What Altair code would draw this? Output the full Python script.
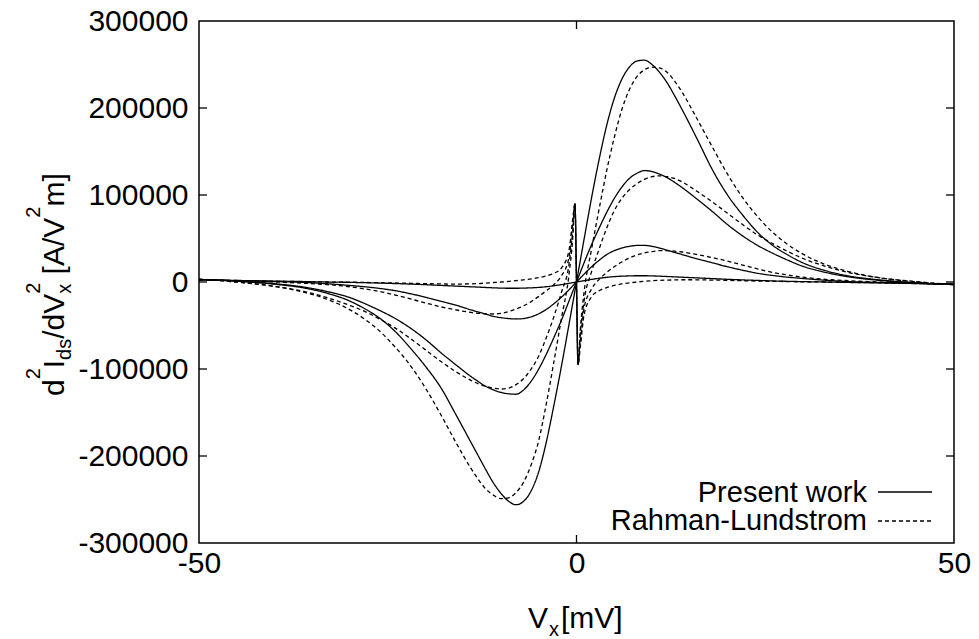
import altair as alt
import pandas as pd

# ---------------- data (in units of 1000 A/V^2m) ----------------
X_MV = [-50, -45, -40, -36, -33, -30, -28, -26, -24, -22,
        -20, -18, -16, -14, -13, -12, -11, -10, -9, -8,
        -7, -6, -5, -4, -3, -2, -1, -0.5, -0.2,
        0,
        0.2, 0.5, 1, 2, 3, 4, 5, 6, 7,
        8, 9, 10, 11, 12, 13, 14, 16, 18, 20,
        22, 24, 26, 28, 30, 33, 36, 40, 45, 50]

PRESENT_1 = [3, 1, -2.5, -7, -13, -22, -31, -42, -57, -76,
             -97, -121, -152, -184, -200, -216, -231, -243, -252, -256,
             -252, -240, -218, -184, -142, -97, -49, -24.5, -10,
             0,
             10, 24.5, 49, 97, 141, 180, 211, 233, 247,
             254, 255, 250, 241, 229, 214, 198, 164, 129, 100,
             77, 57, 42, 31, 22, 13, 7, 2.5, -1, -3]

PRESENT_2 = [3, 1, -2, -6, -11, -18, -25, -33, -42, -53,
             -66, -81, -95, -108.5, -114.5, -120, -124, -127, -128.5, -129,
             -124, -114, -100, -83, -64, -44, -22, -11, -4.4,
             0,
             4.4, 11, 22, 43, 62, 80, 96, 109, 119,
             125, 128, 127, 124, 120, 114.5, 108.5, 95, 81, 66,
             53, 42, 33, 25, 18, 11, 6, 2, -1, -3]

PRESENT_3 = [2.5, 1.5, 0.5, -0.5, -2, -4, -5.5, -7.5, -10, -13.5,
             -17.5, -22, -26.5, -32, -34.5, -37, -39.5, -41, -42, -42.5,
             -42, -40, -36.5, -31.5, -25, -17.5, -9, -4.5, -1.8,
             0,
             1.8, 4.5, 9, 17.5, 25, 31.5, 36, 39, 41,
             42, 42, 41, 39, 36.5, 34, 31.5, 26.5, 22, 17.5,
             13.5, 10, 7.5, 5.5, 4, 2, 0.5, -0.5, -1.5, -2.5]

PRESENT_4 = [2.5, 1.8, 1, 0.5, 0, -0.4, -0.8, -1.2, -1.8, -2.4,
             -3.1, -3.9, -4.7, -5.5, -5.9, -6.3, -6.7, -7, -7.2, -7.2,
             -7, -6.7, -6.2, -5.4, -4.3, -3, -1.5, -0.75, -0.3,
             0,
             0.3, 0.75, 1.5, 3, 4.3, 5.4, 6.2, 6.7, 7,
             7.2, 7.2, 7, 6.7, 6.3, 5.9, 5.5, 4.7, 3.9, 3.1,
             2.4, 1.8, 1.2, 0.8, 0.4, 0, -0.5, -1, -1.8, -2.5]

RL_1 = [3, 0, -5, -12, -20, -32, -43, -57, -75, -96,
        -122, -152, -184, -214, -227, -238, -245, -249, -248, -242,
        -230, -210, -182, -140, -92, -42, 8, 50, 90,
        0,
        -95, -55, -12, 38, 84, 128, 166, 198, 221,
        236, 244, 247, 246, 241, 231, 218, 187, 155, 124,
        97, 75, 57, 43, 32, 20, 12, 5, 0.5, -3]

RL_2 = [3, 0, -5, -11, -18, -27, -34, -43, -53, -65,
        -78, -91, -103, -113, -117, -120, -122, -123, -122, -118,
        -111, -100, -85, -64, -40, -12, 20, 58, 90,
        0,
        -95, -60, -22, 12, 38, 62, 82, 96, 106,
        113, 118, 121, 122, 121, 119, 115, 104, 92, 79,
        66, 54, 44, 35, 27, 18, 11, 5, 0, -3]

RL_3 = [2.5, 1.5, 0, -1.5, -3, -5.5, -8, -11, -15, -19.5,
        -24, -28.5, -32, -35, -36, -36.5, -36.8, -36, -34, -31,
        -27.5, -22.5, -16.5, -10, -3, 7, 28, 68, 90,
        0,
        -95, -70, -30, -8, 3, 11, 17.5, 23, 27.5,
        31, 33.5, 35, 36, 36, 35.5, 34.5, 31.5, 28, 24,
        19.5, 15, 11, 8, 5.5, 3, 1.5, 0, -1.5, -2.5]

RL_4 = [2.5, 1.7, 0.9, 0.4, 0, -0.2, -0.5, -0.8, -1.1, -1.5,
        -1.9, -2.2, -2.4, -2.2, -1.8, -1.2, -0.6, 0, 0.7, 1.5,
        2.5, 3.6, 5, 7, 10, 16, 36, 72, 90,
        0,
        -95, -75, -38, -17, -10, -6.5, -4, -2.2, -1,
        0, 0.8, 1.4, 1.9, 2.2, 2.4, 2.6, 2.5, 2.2, 1.9,
        1.5, 1.1, 0.8, 0.5, 0.2, 0, -0.4, -0.9, -1.7, -2.5]

MODELS = ["Present work", "Rahman-Lundstrom"]
SERIES = [
    ("Present work", "p1", PRESENT_1), ("Present work", "p2", PRESENT_2),
    ("Present work", "p3", PRESENT_3), ("Present work", "p4", PRESENT_4),
    ("Rahman-Lundstrom", "r1", RL_1), ("Rahman-Lundstrom", "r2", RL_2),
    ("Rahman-Lundstrom", "r3", RL_3), ("Rahman-Lundstrom", "r4", RL_4),
]
X_TICKS = [-50, 0, 50]
Y_TICKS = [-300000, -200000, -100000, 0, 100000, 200000, 300000]

rows = []
for model, cid, vals in SERIES:
    for x, v in zip(X_MV, vals):
        rows.append({"x": x, "y": v * 1000, "model": model, "curve": cid})
df = pd.DataFrame(rows)

# ---------------- layout ----------------
W, H = 755, 522
FONT = "Liberation Sans"
FS = 30
xscale = alt.Scale(domain=[-50, 50], nice=False, zero=False)
yscale = alt.Scale(domain=[-300000, 300000], nice=False, zero=False)
label_expr = "datum.value < 0 ? '-' + abs(datum.value) : '' + datum.value"

xaxis = alt.Axis(values=X_TICKS, title=None, ticks=False, domain=False, grid=False,
                 labelFont=FONT, labelFontSize=FS, labelColor="black", labelPadding=5,
                 labelFlush=False, labelOverlap=False, labelExpr=label_expr)
yaxis = alt.Axis(values=Y_TICKS, title=None, ticks=False, domain=False, grid=False,
                 labelFont=FONT, labelFontSize=FS, labelColor="black", labelPadding=11,
                 labelFlush=False, labelOverlap=False, labelExpr=label_expr)

lines = alt.Chart(df).mark_line(interpolate="monotone", color="black", strokeWidth=1.3, clip=True).encode(
    x=alt.X("x:Q", scale=xscale, axis=xaxis),
    y=alt.Y("y:Q", scale=yscale, axis=yaxis),
    detail="curve:N",
    strokeDash=alt.StrokeDash("model:N", scale=alt.Scale(domain=MODELS, range=[[1, 0], [4, 3]]), legend=None),
)

ydf = pd.DataFrame({"v": Y_TICKS[1:-1]})
xdf = pd.DataFrame({"v": X_TICKS[1:-1]})
tick_l = alt.Chart(ydf).mark_rule(color="black", strokeWidth=1.3).encode(
    y=alt.Y("v:Q", scale=yscale, axis=yaxis), x=alt.value(0), x2=alt.value(8))
tick_r = alt.Chart(ydf).mark_rule(color="black", strokeWidth=1.3).encode(
    y=alt.Y("v:Q", scale=yscale, axis=yaxis), x=alt.value(W - 8), x2=alt.value(W))
tick_b = alt.Chart(xdf).mark_rule(color="black", strokeWidth=1.3).encode(
    x=alt.X("v:Q", scale=xscale, axis=xaxis), y=alt.value(H - 8), y2=alt.value(H))
tick_t = alt.Chart(xdf).mark_rule(color="black", strokeWidth=1.3).encode(
    x=alt.X("v:Q", scale=xscale, axis=xaxis), y=alt.value(0), y2=alt.value(8))


def txt(s, x, y, size=FS, angle=0, align="left"):
    kw = dict(font=FONT, fontSize=size, color="black", align=align, baseline="alphabetic")
    if angle:
        kw["angle"] = angle
    return alt.Chart(pd.DataFrame({"t": [s]})).mark_text(**kw).encode(
        text="t:N", x=alt.value(x), y=alt.value(y))


# y-axis title: d^2 I_ds / dV^2_x [A/V^2 m]  (rotated, running upward)
Y_TITLE_PIECES = [("d", "main", 16.7), ("2", "sup", 11.1), ("I", "main", 8.3), ("ds", "sub", 21.1),
                  ("/dV", "main", 45.0), ("2", "sup", 0.0), ("x", "sub", 11.1 + 8.3),
                  ("[A/V", "main", 56.7), ("2", "sup", 11.1), ("m]", "main", 33.3)]
base_x = {"main": 64 - 199, "sup": 40 - 199, "sub": 71 - 199}
sizes = {"main": FS, "sup": 20, "sub": 20}
pos = 396 - 21
title_layers = []
for s, kind, adv in Y_TITLE_PIECES:
    title_layers.append(txt(s, base_x[kind], pos, size=sizes[kind], angle=270))
    pos -= adv

# x-axis title: V_x[mV]
title_layers.append(txt("V", 528 - 199, 628 - 21))
title_layers.append(txt("x", 549 - 199, 636 - 21, size=20))
title_layers.append(txt("[mV]", 561 - 199, 628 - 21))

# legend (gnuplot style: label left of sample)
leg = []
leg.append(txt("Present work", 867 - 199, 502 - 21, size=29, align="right"))
leg.append(txt("Rahman-Lundstrom", 867 - 199, 530 - 21, size=29, align="right"))
leg.append(alt.Chart(pd.DataFrame({"m": [MODELS[0]]})).mark_rule(color="black", strokeWidth=1.3).encode(
    x=alt.value(878 - 199), x2=alt.value(932 - 199), y=alt.value(492 - 21)))
leg.append(alt.Chart(pd.DataFrame({"m": [MODELS[1]]})).mark_rule(color="black", strokeWidth=1.3, strokeDash=[4, 3]).encode(
    x=alt.value(878 - 199), x2=alt.value(932 - 199), y=alt.value(521 - 21)))

chart = alt.layer(lines, tick_l, tick_r, tick_b, tick_t, *title_layers, *leg).properties(
    width=W, height=H,
    padding={"left": 199, "top": 21, "right": 25, "bottom": 96},
    autosize=alt.AutoSizeParams(type="none"),
    background="white",
).configure_view(stroke="black", strokeWidth=1.5)

chart.save("out.html", embed_options={"renderer": "svg", "actions": False})
